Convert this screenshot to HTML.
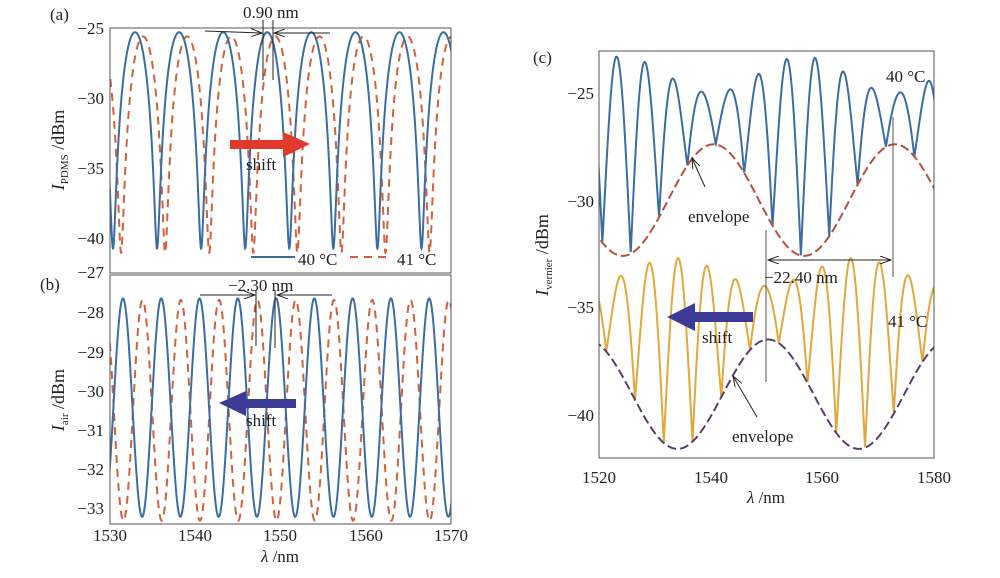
<!DOCTYPE html>
<html><head><meta charset="utf-8"><style>
html,body{margin:0;padding:0;background:#fff;}
svg text{font-family:"Liberation Serif",serif;fill:#222;}
</style></head><body>
<svg id="s" width="1000" height="573" xmlns="http://www.w3.org/2000/svg">
<defs>
<clipPath id="ca"><rect x="110" y="28" width="341" height="245"/></clipPath>
<clipPath id="cb"><rect x="110" y="275" width="341" height="249"/></clipPath>
<clipPath id="cc"><rect x="599" y="51" width="335" height="407"/></clipPath>
<marker id="ah" markerWidth="12" markerHeight="8" refX="11" refY="4" orient="auto" markerUnits="userSpaceOnUse"><path d="M0,0 L11,4 L0,8" fill="none" stroke="#222" stroke-width="1"/></marker>
</defs>
<g id="curves"></g>
<rect x="110" y="28" width="341" height="245" fill="none" stroke="#555" stroke-width="1"/>
<rect x="110" y="275" width="341" height="249" fill="none" stroke="#555" stroke-width="1"/>
<rect x="599" y="51" width="335" height="407" fill="none" stroke="#555" stroke-width="1"/>
<g font-size="17" text-anchor="end">
<text x="104" y="34">−25</text><text x="104" y="104">−30</text><text x="104" y="174">−35</text><text x="104" y="244">−40</text>
<text x="104" y="278">−27</text><text x="104" y="318">−28</text><text x="104" y="358">−29</text><text x="104" y="397">−30</text><text x="104" y="436">−31</text><text x="104" y="475">−32</text><text x="104" y="514">−33</text>
<text x="594" y="99">−25</text><text x="594" y="207">−30</text><text x="594" y="313">−35</text><text x="594" y="421">−40</text>
</g>
<g font-size="17" text-anchor="middle">
<text x="110" y="541">1530</text><text x="195" y="541">1540</text><text x="280" y="541">1550</text><text x="366" y="541">1560</text><text x="451" y="541">1570</text>
<text x="599" y="483">1520</text><text x="711" y="483">1540</text><text x="822" y="483">1560</text><text x="934" y="483">1580</text>
<text x="280" y="562"><tspan font-style="italic">λ</tspan> /nm</text>
<text x="766" y="503"><tspan font-style="italic">λ</tspan> /nm</text>
</g>
<g font-size="18">
<text transform="translate(64,150) rotate(-90)" text-anchor="middle"><tspan font-style="italic">I</tspan><tspan font-size="11" dy="4">PDMS</tspan><tspan dy="-4"> /dBm</tspan></text>
<text transform="translate(64,400) rotate(-90)" text-anchor="middle"><tspan font-style="italic">I</tspan><tspan font-size="11" dy="4">air</tspan><tspan dy="-4"> /dBm</tspan></text>
<text transform="translate(548,255) rotate(-90)" text-anchor="middle"><tspan font-style="italic">I</tspan><tspan font-size="11" dy="4">vernier</tspan><tspan dy="-4"> /dBm</tspan></text>
</g>
<g font-size="17">
<text x="50" y="20">(a)</text><text x="40" y="290">(b)</text><text x="533" y="63">(c)</text>
<text x="243" y="18">0.90 nm</text>
<text x="228" y="291">−2.30 nm</text>
<text x="246" y="170">shift</text>
<text x="246" y="426">shift</text>
<text x="298" y="265">40 °C</text><text x="397" y="265">41 °C</text>
<text x="886" y="82">40 °C</text><text x="888" y="327">41 °C</text>
<text x="688" y="222">envelope</text><text x="732" y="442">envelope</text>
<text x="764" y="283">−22.40 nm</text>
<text x="702" y="343">shift</text>
</g>
<line x1="251" y1="257" x2="295" y2="257" stroke="#3a6ea3" stroke-width="2"/>
<line x1="350" y1="257" x2="391" y2="257" stroke="#d2613d" stroke-width="2" stroke-dasharray="8,6"/>
<g stroke="#222" stroke-width="1" fill="none">
<line x1="205" y1="31" x2="262" y2="33" marker-end="url(#ah)"/>
<line x1="330" y1="33" x2="274" y2="33" marker-end="url(#ah)"/>
<line x1="263" y1="20" x2="263" y2="80"/><line x1="273" y1="20" x2="273" y2="80"/>
<line x1="200" y1="295" x2="255" y2="295" marker-end="url(#ah)"/>
<line x1="332" y1="295" x2="277" y2="295" marker-end="url(#ah)"/>
<line x1="256" y1="290" x2="256" y2="346"/><line x1="275" y1="290" x2="275" y2="348"/>
<line x1="766" y1="230" x2="766" y2="382" stroke="#555"/>
<line x1="893" y1="117" x2="893" y2="277" stroke="#555"/>
<line x1="793" y1="260" x2="768" y2="260" marker-end="url(#ah)"/>
<line x1="768" y1="260" x2="891" y2="260" marker-end="url(#ah)"/>
<line x1="705" y1="187" x2="692" y2="158" marker-end="url(#ah)"/>
<line x1="757" y1="417" x2="733" y2="376" marker-end="url(#ah)"/>
</g>
<rect x="230" y="140" width="55" height="9" fill="#e23a2a"/><polygon points="283,132 310,144 283,157" fill="#e23a2a"/>
<rect x="244" y="399" width="52" height="9" fill="#3c3b95"/><polygon points="246,391 219,403 246,416" fill="#3c3b95"/>
<rect x="693" y="312" width="60" height="10" fill="#3c3b95"/><polygon points="695,303 667,317 695,331" fill="#3c3b95"/>
</svg>
<script>
var g=document.getElementById('curves');
function path(fn,l0,l1,X,Y,clip,st){var d='';for(var i=0;i<=1600;i++){var l=l0+(l1-l0)*i/1600;d+=(i?'L':'M')+X(l).toFixed(2)+','+Y(fn(l)).toFixed(2);}
var p=document.createElementNS('http://www.w3.org/2000/svg','path');p.setAttribute('d',d);p.setAttribute('fill','none');p.setAttribute('clip-path','url(#'+clip+')');for(var k in st)p.setAttribute(k,st[k]);g.appendChild(p);}
var PI=Math.PI;
var Xa=function(l){return 110+(l-1530)*8.525},Ya=function(v){return 28+(-25-v)*14.04};
var a=0.0288,Pa=5.17;
path(function(l){var s=Math.sin(PI*(l-1530.35-0.95)/Pa);return -25.6+10*Math.log10(a+(1-a)*s*s)},1529,1571,Xa,Ya,'ca',{stroke:'#d2613d','stroke-width':2,'stroke-dasharray':'8,6'});
path(function(l){var s=Math.sin(PI*(l-1530.35)/Pa);return -25.3+10*Math.log10(a+(1-a)*s*s)},1529,1571,Xa,Ya,'ca',{stroke:'#3a6ea3','stroke-width':2});
var Yb=function(v){return 275+(-27-v)*39.0},Pb=4.49;
path(function(l){return -30.47+2.83*Math.cos(2*PI*(l-1531.52-2.3)/Pb)},1529,1571,Xa,Yb,'cb',{stroke:'#d2613d','stroke-width':2,'stroke-dasharray':'8,6'});
path(function(l){return -30.4+2.8*Math.cos(2*PI*(l-1531.52)/Pb)},1529,1571,Xa,Yb,'cb',{stroke:'#3a6ea3','stroke-width':2});
var Xc=function(l){return 599+(l-1520)*5.583},Yc=function(v){return 51+(-23.05-v)*21.45};
function L1(l){return -30+2.6*Math.cos(2*PI*(l-1540.5)/32.5)}
function U1(l){return -24.15+0.85*Math.cos(2*PI*(l-1556.5)/32.5)}
function L2(l){return -39.05+2.55*Math.cos(2*PI*(l-1550.3)/32.5)}
function U2(l){return -33.35+0.65*Math.cos(2*PI*(l-1533.5)/32.5)}
path(function(l){var s=Math.abs(Math.sin(PI*(l-1520.6)/5.08));return L1(l)+(U1(l)-L1(l))*s},1519,1581,Xc,Yc,'cc',{stroke:'#3a6ea3','stroke-width':2});
path(function(l){var s=Math.abs(Math.sin(PI*(l-1521.3)/5.15));return L2(l)+(U2(l)-L2(l))*s},1519,1581,Xc,Yc,'cc',{stroke:'#e2a83c','stroke-width':2});
path(L1,1519,1581,Xc,Yc,'cc',{stroke:'#b4503c','stroke-width':2,'stroke-dasharray':'9,4'});
path(L2,1519,1581,Xc,Yc,'cc',{stroke:'#5b3d6e','stroke-width':2,'stroke-dasharray':'9,4'});
</script>
</body></html>
